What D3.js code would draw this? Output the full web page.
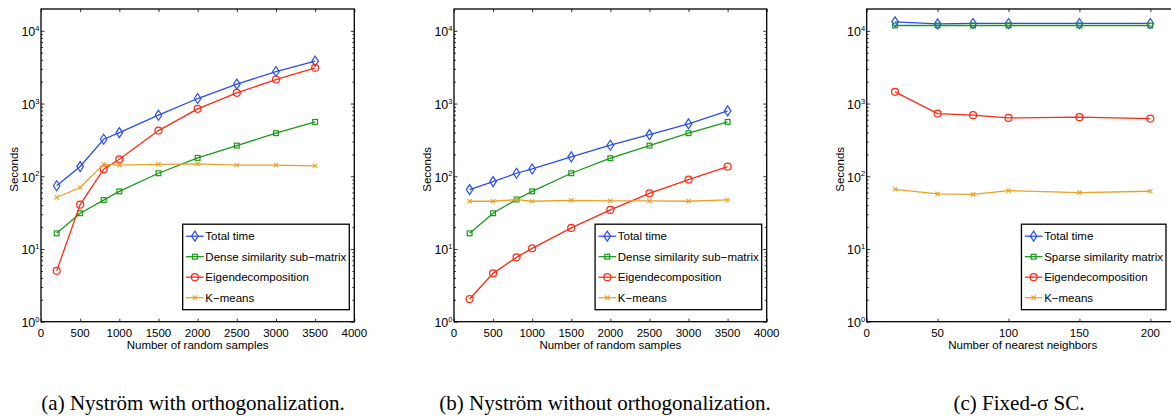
<!DOCTYPE html>
<html>
<head>
<meta charset="utf-8">
<script src="https://cdn.jsdelivr.net/npm/d3@7"></script>
<style>
    body { margin: 0; background: #fff; }
    svg text { font-family: "Liberation Sans", Arial, sans-serif; fill: #000; }
    .caption { font-family: "Liberation Serif", "Times New Roman", serif !important; }
</style>
</head>
<body>
<div class="wrapper-svg"></div>
<script>
// data -------------------------------------------------------------
var samplesX = [200, 500, 800, 1000, 1500, 2000, 2500, 3000, 3500];
var neighborsX = [20, 50, 75, 100, 150, 200];

var totalA = [74, 136, 323, 399, 691, 1172, 1845, 2755, 3826];
var denseA = [16.4, 31, 47, 62, 110, 179, 264, 391, 559];
var eigenA = [5.0, 40.7, 125, 171, 425, 845, 1403, 2139, 3097];
var kmeansA = [51, 70, 146, 142, 146, 148, 142, 142, 139];

var totalB = [65.6, 84.5, 110, 126, 185, 267, 374, 525, 793];
var denseB = [16.4, 31, 48, 62, 110, 177, 264, 391, 559];
var eigenB = [2.05, 4.62, 7.68, 10.2, 19.5, 34.4, 58.3, 90, 136];
var kmeansB = [45.3, 45.3, 47.7, 45.3, 46.7, 45.8, 45.8, 45.3, 47.2];

var totalC = [13300, 12480, 12620, 12620, 12620, 12620];
var sparseC = [11840, 11840, 11840, 11840, 11840, 11840];
var eigenC = [1448, 728, 691, 635, 649, 622];
var kmeansC = [66.2, 57.1, 56.5, 63.5, 59.6, 62.2];

var samplesTicks = [0, 500, 1000, 1500, 2000, 2500, 3000, 3500, 4000];
var neighborsTicks = [0, 50, 100, 150, 200];
var yTicks = [1, 10, 100, 1000, 10000];

var legendA = ['Total time', 'Dense similarity sub\u2212matrix', 'Eigendecomposition', 'K\u2212means'];
var legendC = ['Total time', 'Sparse similarity matrix', 'Eigendecomposition', 'K\u2212means'];
var captions = ['(a) Nystr\u00f6m with orthogonalization.', '(b) Nystr\u00f6m without orthogonalization.', '(c) Fixed-\u03c3 SC.'];

var colors = ['#2a4df2', '#189a18', '#ff2a12', '#e9a226'];
var markers = ['diamond', 'square', 'circle', 'cross'];

class timingFigure {
    constructor() {
        this.svg = d3.select('.wrapper-svg')
            .append('svg')
            .attr('width', 1171)
            .attr('height', 417);
        this.top = 9;
        this.bottom = 321.7;
    }

    marker(g, type, x, y, color) {
        if(type == 'diamond') {
            g.append('path').attr('d', 'M'+x+','+(y-5)+'L'+(x+3.3)+','+y+'L'+x+','+(y+5)+'L'+(x-3.3)+','+y+'Z')
                .attr('fill', 'none').attr('stroke', color).attr('stroke-width', 1.2);
        } else if(type == 'square') {
            g.append('rect').attr('x', x-2.4).attr('y', y-2.4).attr('width', 4.8).attr('height', 4.8)
                .attr('fill', 'none').attr('stroke', color).attr('stroke-width', 1.2);
        } else if(type == 'circle') {
            g.append('circle').attr('cx', x).attr('cy', y).attr('r', 3.5)
                .attr('fill', 'none').attr('stroke', color).attr('stroke-width', 1.2);
        } else {
            g.append('path').attr('d', 'M'+(x-2.2)+','+(y-2.2)+'L'+(x+2.2)+','+(y+2.2)+'M'+(x-2.2)+','+(y+2.2)+'L'+(x+2.2)+','+(y-2.2))
                .attr('fill', 'none').attr('stroke', color).attr('stroke-width', 1.1);
        }
    }

    panel(left, right, xDomain, xTicks, xs, series, names, xLabel) {
        var svg = this.svg;
        var self = this;
        var x = d3.scaleLinear().domain(xDomain).range([left, right]);
        var y = d3.scaleLog().domain([1, Math.pow(10, 4.3)]).range([this.bottom, this.top]);

        var minor = [];
        for(var e = 0; e < 5; e++) {
            for(var m = 2; m < 10; m++) {
                if(m * Math.pow(10, e) < y.domain()[1]) minor.push(m * Math.pow(10, e));
            }
        }

//Оси: тики внутрь, со всех сторон ------------------------------------------
        svg.append('g').attr('transform', 'translate(0,'+this.bottom+')')
            .call(d3.axisBottom(x).tickValues(xTicks).tickSize(-3).tickFormat(''))
            .call(g => g.select('.domain').remove());
        svg.append('g').attr('transform', 'translate(0,'+this.top+')')
            .call(d3.axisTop(x).tickValues(xTicks).tickSize(-3).tickFormat(''))
            .call(g => g.select('.domain').remove());
        svg.append('g').attr('transform', 'translate('+left+',0)')
            .call(d3.axisLeft(y).tickValues(yTicks).tickSize(-3.5).tickFormat(''))
            .call(g => g.select('.domain').remove());
        svg.append('g').attr('transform', 'translate('+left+',0)')
            .call(d3.axisLeft(y).tickValues(minor).tickSize(-2).tickFormat(''))
            .call(g => g.select('.domain').remove());
        svg.append('g').attr('transform', 'translate('+right+',0)')
            .call(d3.axisRight(y).tickValues(yTicks).tickSize(-3.5).tickFormat(''))
            .call(g => g.select('.domain').remove());
        svg.append('g').attr('transform', 'translate('+right+',0)')
            .call(d3.axisRight(y).tickValues(minor).tickSize(-2).tickFormat(''))
            .call(g => g.select('.domain').remove());
        svg.selectAll('.tick line').attr('stroke', '#000').attr('stroke-width', 0.8);

        svg.append('rect')
            .attr('x', left).attr('y', this.top)
            .attr('width', right - left).attr('height', this.bottom - this.top)
            .attr('fill', 'none').attr('stroke', '#000').attr('stroke-width', 1.3);

//Подписи тиков ---------------------------------------------------------------
        xTicks.forEach(function(t) {
            svg.append('text').text(t)
                .attr('x', x(t)).attr('y', self.bottom + 15)
                .attr('text-anchor', 'middle')
                .style('font-size', '11.5px');
        });
        yTicks.forEach(function(t) {
            var lbl = svg.append('text')
                .attr('x', left - 1.5).attr('y', y(t) + 5.5)
                .attr('text-anchor', 'end')
                .style('font-size', '12.5px');
            lbl.append('tspan').text('10');
            lbl.append('tspan').text(Math.round(Math.log10(t)))
                .attr('dy', -5.5).style('font-size', '7.5px');
        });

        svg.append('text').text(xLabel)
            .attr('x', (left + right) / 2).attr('y', this.bottom + 27)
            .attr('text-anchor', 'middle')
            .style('font-size', '11.5px');
        svg.append('text').text('Seconds')
            .attr('transform', 'translate('+(left - 23)+','+((this.top + this.bottom) / 2 + 4)+') rotate(-90)')
            .attr('text-anchor', 'middle')
            .style('font-size', '11.5px');

//Линии и маркеры -------------------------------------------------------------
        var line = d3.line().x(d => x(d[0])).y(d => y(d[1]));
        series.forEach(function(vals, k) {
            var pts = xs.map((v, i) => [v, vals[i]]);
            var g = svg.append('g');
            g.append('path').datum(pts)
                .attr('d', line)
                .attr('fill', 'none')
                .attr('stroke', colors[k])
                .attr('stroke-width', 1.3);
            pts.forEach(p => self.marker(g, markers[k], x(p[0]), y(p[1]), colors[k]));
        });

//Легенда ---------------------------------------------------------------------
        var lg = svg.append('g');
        var box = lg.append('rect').attr('fill', '#fff').attr('stroke', '#000').attr('stroke-width', 1.3);
        var texts = [];
        names.forEach(function(n, k) {
            texts.push(lg.append('text').text(n).attr('x', 22.7).attr('y', 12 + k * 20.5 + 4.2).style('font-size', '11.5px'));
            lg.append('line').attr('x1', 3.4).attr('x2', 21).attr('y1', 12 + k * 20.5).attr('y2', 12 + k * 20.5)
                .attr('stroke', colors[k]).attr('stroke-width', 1.3);
            self.marker(lg, markers[k], 12.2, 12 + k * 20.5, colors[k]);
        });
        var w = 22.7 + d3.max(texts, t => t.node().getComputedTextLength()) + 3;
        var h = 85.5;
        box.attr('width', w).attr('height', h);
        lg.attr('transform', 'translate('+(Math.min(right, 1171) - 5 - w)+','+(this.bottom - 12 - h)+')');
    }

    build() {
        this.panel(41, 354.3, [0, 4000], samplesTicks, samplesX, [totalA, denseA, eigenA, kmeansA], legendA, 'Number of random samples');
        this.panel(454, 766.7, [0, 4000], samplesTicks, samplesX, [totalB, denseB, eigenB, kmeansB], legendA, 'Number of random samples');
        this.panel(866.7, 1178.7, [0, 220], neighborsTicks, neighborsX, [totalC, sparseC, eigenC, kmeansC], legendC, 'Number of nearest neighbors');

        var centers = [193, 605, 1019];
        var svg = this.svg;
        captions.forEach(function(c, i) {
            svg.append('text').classed('caption', true).text(c)
                .attr('x', centers[i]).attr('y', 410)
                .attr('text-anchor', 'middle')
                .style('font-size', '21px');
        });
    }
}

var fig = new timingFigure();
fig.build();
</script>
</body>
</html>
